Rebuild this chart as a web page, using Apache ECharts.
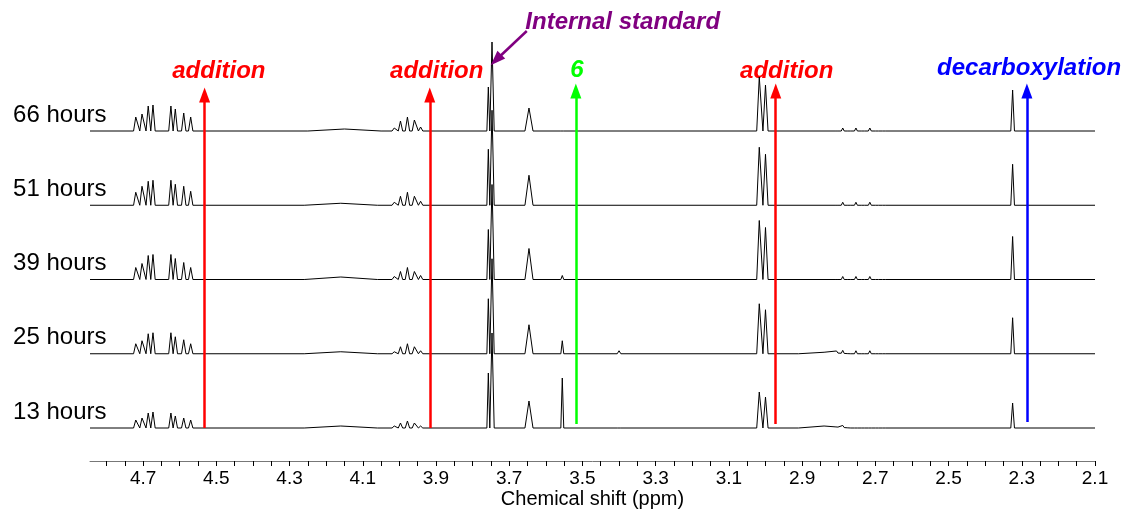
<!DOCTYPE html>
<html><head><meta charset="utf-8">
<script src="https://cdn.jsdelivr.net/npm/echarts@6/dist/echarts.min.js"></script>
<style>html,body{margin:0;padding:0;background:#fff}#c{width:1126px;height:510px}</style>
</head><body><div id="c"></div>
<script>
// ---------- DATA ----------
const ppmMin = 2.1, ppmMax = 4.845;
const tickLabelValues = [4.7, 4.5, 4.3, 4.1, 3.9, 3.7, 3.5, 3.3, 3.1, 2.9, 2.7, 2.5, 2.3, 2.1];
const traceLabels = ['13 hours', '25 hours', '39 hours', '51 hours', '66 hours'];
// peaks: [ppm, height, half-width(ppm)]
const peaks13h = [
  [4.720, 8, 0.006], [4.703, 10, 0.006], [4.686, 15, 0.006], [4.673, 16, 0.006],
  [4.624, 15, 0.006], [4.612, 12, 0.006], [4.589, 10, 0.006], [4.570, 8, 0.006],
  [4.16, 2, 0.1],
  [4.014, 2, 0.006], [3.997, 5, 0.006], [3.978, 7, 0.006], [3.959, 5, 0.006], [3.942, 2, 0.006],
  [3.757, 55, 0.004], [3.747, 95, 0.006], [3.646, 27, 0.011], [3.555, 50, 0.004], [3.40, 2, 0.005],
  [3.017, 36, 0.007], [3.000, 31, 0.007], [2.84, 2, 0.07],
  [2.806, 1, 0.004], [2.789, 2, 0.004], [2.771, 1, 0.004], [2.753, 2, 0.004],
  [2.733, 1, 0.004], [2.715, 2, 0.004], [2.695, 1, 0.004], [2.677, 1, 0.004],
  [2.325, 25, 0.005]
];
const peaks25h = [
  [4.720, 10, 0.006], [4.703, 13, 0.006], [4.686, 20, 0.006], [4.673, 21, 0.006],
  [4.624, 21, 0.006], [4.612, 17, 0.006], [4.589, 14, 0.006], [4.570, 10, 0.006],
  [4.16, 2, 0.1],
  [4.014, 2, 0.006], [3.997, 7, 0.006], [3.978, 10, 0.006], [3.959, 7, 0.006], [3.942, 3, 0.006],
  [3.757, 55, 0.004], [3.747, 95, 0.006], [3.646, 29, 0.011], [3.555, 13, 0.004], [3.40, 3, 0.005],
  [3.017, 50, 0.007], [3.000, 44, 0.007], [2.84, 1.5, 0.07],
  [2.806, 2, 0.004], [2.789, 3, 0.004], [2.771, 2, 0.004], [2.753, 3, 0.004],
  [2.733, 2, 0.004], [2.715, 3, 0.004], [2.695, 2, 0.004], [2.677, 2, 0.004],
  [2.325, 36, 0.005]
];
const peaks39h = [
  [4.720, 12, 0.006], [4.703, 16, 0.006], [4.686, 24, 0.006], [4.673, 25, 0.006],
  [4.624, 25, 0.006], [4.612, 21, 0.006], [4.589, 17, 0.006], [4.570, 12, 0.006],
  [4.16, 2.5, 0.1],
  [4.014, 3, 0.006], [3.997, 8, 0.006], [3.978, 12, 0.006], [3.959, 8, 0.006], [3.942, 4, 0.006],
  [3.757, 50, 0.004], [3.747, 95, 0.006], [3.646, 31, 0.011], [3.555, 4, 0.004],
  [3.017, 59, 0.007], [3.000, 52, 0.007],
  [2.806, 2, 0.004], [2.789, 3, 0.004], [2.771, 2, 0.004], [2.753, 3, 0.004],
  [2.733, 2, 0.004], [2.715, 3, 0.004], [2.695, 2, 0.004], [2.677, 2, 0.004],
  [2.325, 43, 0.005]
];
const peaks51h = [
  [4.720, 13, 0.006], [4.703, 19, 0.006], [4.686, 24, 0.006], [4.673, 25, 0.006],
  [4.624, 25, 0.006], [4.612, 21, 0.006], [4.589, 19, 0.006], [4.570, 14, 0.006],
  [4.16, 2, 0.1],
  [4.014, 3, 0.006], [3.997, 9, 0.006], [3.978, 13, 0.006], [3.959, 9, 0.006], [3.942, 4, 0.006],
  [3.757, 56, 0.004], [3.747, 95, 0.006], [3.646, 30, 0.011],
  [3.017, 58, 0.007], [3.000, 51, 0.007],
  [2.806, 2, 0.004], [2.789, 3, 0.004], [2.771, 2, 0.004], [2.753, 3, 0.004],
  [2.733, 2, 0.004], [2.715, 3, 0.004], [2.695, 2, 0.004], [2.677, 2, 0.004],
  [2.325, 41, 0.005]
];
const peaks66h = [
  [4.720, 14, 0.006], [4.703, 17, 0.006], [4.686, 25, 0.006], [4.673, 26, 0.006],
  [4.624, 25, 0.006], [4.612, 22, 0.006], [4.589, 18, 0.006], [4.570, 14, 0.006],
  [4.15, 2, 0.1],
  [4.014, 3, 0.006], [3.997, 10, 0.006], [3.978, 14, 0.006], [3.959, 11, 0.006], [3.942, 4, 0.006],
  [3.757, 44, 0.004], [3.747, 89, 0.006], [3.646, 23, 0.011], [3.555, 2, 0.004],
  [3.017, 54, 0.007], [3.000, 46, 0.007],
  [2.806, 2, 0.004], [2.789, 3, 0.004], [2.771, 2, 0.004], [2.753, 3, 0.004],
  [2.733, 2, 0.004], [2.715, 3, 0.004], [2.695, 2, 0.004], [2.677, 2, 0.004],
  [2.325, 41, 0.005]
];
const tracePeaks = [peaks13h, peaks25h, peaks39h, peaks51h, peaks66h];

const annotationText = ['addition', 'addition', '6', 'addition', 'decarboxylation'];
const annotationPPM = [4.532, 3.917, 3.518, 2.972, 2.286];
const annotationColor = ['#ff0000', '#ff0000', '#00ff00', '#ff0000', '#0000ff'];
const internalStdLabel = 'Internal standard';

// ---------- LAYOUT ----------
const stackStart = 33, stackStep = 74.25;      // baselines (y units == px above axis)
const arrowBottom = [33, 33, 37, 37, 39];
const arrowTop = [366, 366, 370, 370, 370];
const textY = [390, 390, 391, 390, 393];
const textPPM = [4.493, 3.898, 3.515, 2.942, 2.280];
const stdTextPos = [3.390, 439];
const stdArrow = [[3.652, 430], [3.736, 401]];

function buildTrace(peaks, base) {
  const xs = new Set([ppmMin, ppmMax]);
  peaks.forEach(([p, h, w]) => { xs.add(p - w); xs.add(p); xs.add(p + w); });
  const arr = [...xs].filter(v => v >= ppmMin && v <= ppmMax).sort((a, b) => a - b);
  return arr.map(v => {
    let y = base;
    peaks.forEach(([p, h, w]) => { const d = Math.abs(v - p); if (d < w) y += h * (1 - d / w); });
    return [v, y];
  });
}

const FONT = 'Arial, "Liberation Sans", sans-serif';
const series = tracePeaks.map((pk, i) => ({
  type: 'line', name: traceLabels[i], data: buildTrace(pk, stackStart + i * stackStep),
  showSymbol: false, symbol: 'none', clip: false, z: 3,
  lineStyle: { color: '#000', width: 1 }
}));

// hour labels
series.push({
  type: 'scatter', symbolSize: 0, clip: false, silent: true, itemStyle: { opacity: 1 },
  data: traceLabels.map((t, i) => ({ value: [4.80, stackStart + i * stackStep], name: t })),
  label: { show: true, position: 'left', distance: 0, offset: [0, -16], formatter: p => p.name,
           fontFamily: FONT, fontSize: 24, color: '#000' }
});

// annotation texts + arrow shafts
series.push({
  type: 'scatter', symbolSize: 0, clip: false, silent: true, itemStyle: { opacity: 1 },
  data: annotationText.map((t, i) => ({ value: [textPPM[i], textY[i]], name: t,
      label: { color: annotationColor[i] } }))
    .concat([{ value: stdTextPos, name: internalStdLabel, label: { color: '#800080' } }]),
  label: { show: true, position: 'inside', formatter: p => p.name,
           fontFamily: FONT, fontSize: 24, fontWeight: 'bold', fontStyle: 'italic' },
  markLine: {
    silent: true, symbol: ['none', 'none'], animation: false,
    label: { show: false },
    data: annotationPPM.map((p, i) => [
      { coord: [p, arrowBottom[i]], lineStyle: { color: annotationColor[i], width: 2.5, type: 'solid' } },
      { coord: [p, arrowTop[i]] }
    ]).concat([[
      { coord: stdArrow[0], lineStyle: { color: '#800080', width: 2.5, type: 'solid' } },
      { coord: stdArrow[1] }
    ]])
  }
});

// arrow heads
series.push({
  type: 'scatter', symbol: 'triangle', clip: false, silent: true, z: 5,
  data: annotationPPM.map((p, i) => ({ value: [p, arrowTop[i]], symbolSize: [11, 15],
      itemStyle: { color: annotationColor[i], opacity: 1 } }))
    .concat([{ value: stdArrow[1], symbolSize: [11, 15], symbolRotate: 135,
      itemStyle: { color: '#800080', opacity: 1 } }])
});

const chart = echarts.init(document.getElementById('c'));
chart.setOption({
  animation: false,
  backgroundColor: '#fff',
  grid: { left: 90, right: 31, top: 0, bottom: 49, containLabel: false, outerBoundsMode: 'none' },
  xAxis: {
    type: 'value', inverse: true, min: ppmMin, max: ppmMax,
    name: 'Chemical shift (ppm)', nameLocation: 'middle', nameGap: 28, nameMoveOverlap: false,
    nameTextStyle: { fontFamily: FONT, fontSize: 20, color: '#000', verticalAlign: 'top' },
    axisLine: { show: true, lineStyle: { color: '#777', width: 1 } },
    axisTick: { show: true, length: 5, inside: false, lineStyle: { color: '#000' },
      customValues: Array.from({ length: 55 }, (_, k) => +(2.1 + k * 0.05).toFixed(2)) },
    axisLabel: { show: true, customValues: tickLabelValues, margin: 8,
      formatter: v => v.toFixed(1), fontFamily: FONT, fontSize: 19, color: '#000' },
    splitLine: { show: false }
  },
  yAxis: { type: 'value', min: 0, max: 461, show: false },
  series
});
</script></body></html>
